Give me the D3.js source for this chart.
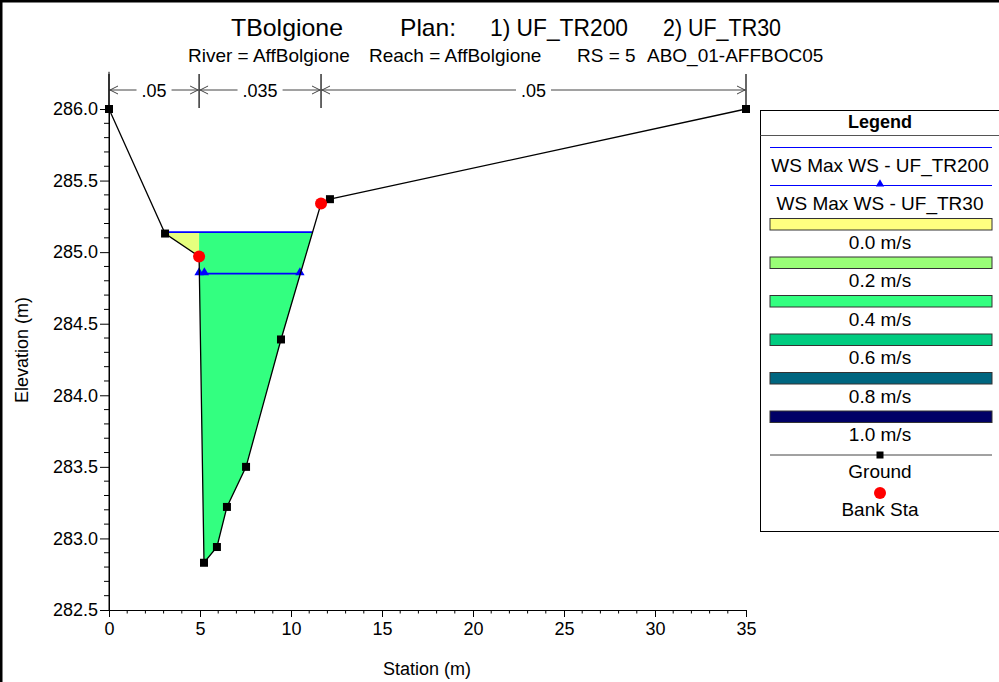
<!DOCTYPE html>
<html>
<head>
<meta charset="utf-8">
<script src="https://cdn.jsdelivr.net/npm/d3@7"></script>
<style>
  body { margin: 0; background: #fff; }
  svg { display: block; font-family: "Liberation Sans", Arial, Helvetica, sans-serif; }
</style>
</head>
<body>
<svg id="chart" width="999" height="682"></svg>
<script>
// ---- Cross-section data (station m, elevation m) ----
const groundSta  = [0.00, 3.08, 4.95, 5.22, 5.93, 6.48, 7.53, 9.45, 11.65, 12.14, 35.00];
const groundElev = [286.00, 285.13, 284.97, 282.83, 282.94, 283.22, 283.50, 284.39, 285.34, 285.37, 286.00];

// Bank stations (left, right)
const bankSta = [4.95, 11.65];

// Manning's n subsections
const manningBreaks = [0.00, 4.95, 11.65, 35.00];
const manningN = [".05", ".035", ".05"];

// Water surfaces
const wsTR200 = 285.14;
const wsTR30 = 284.85;
const wsTR30Markers = [4.95, 5.24, 10.49];

// Mean velocity per subsection for the UF_TR200 profile (m/s)
const subsectionVel = [0.05, 0.40, 0.05];

// Velocity colour legend
const velLevels = [0.0, 0.2, 0.4, 0.6, 0.8, 1.0];
const velColors = ["#ffff80", "#99ff77", "#33ff80", "#00cc80", "#006680", "#000066"];
const velLabels = ["0.0 m/s", "0.2 m/s", "0.4 m/s", "0.6 m/s", "0.8 m/s", "1.0 m/s"];

// Axes
const xTicks = [0, 5, 10, 15, 20, 25, 30, 35];
const yTicks = [282.5, 283.0, 283.5, 284.0, 284.5, 285.0, 285.5, 286.0];
const yAxisTop = 286.26;

// Titles
const titleParts = ["TBolgione", "Plan:", "1) UF_TR200", "2) UF_TR30"];
const subtitleParts = ["River = AffBolgione", "Reach = AffBolgione", "RS = 5", "ABO_01-AFFBOC05"];
const legendLabels = ["WS Max WS - UF_TR200", "WS Max WS - UF_TR30", "Ground", "Bank Sta"];

// ---- Layout ----
const svg = d3.select("#chart");
const x = d3.scaleLinear().domain([0, 35]).range([109, 746]);
const y = d3.scaleLinear().domain([282.5, 286.0]).range([610, 109]);
const velColor = d3.scaleLinear().domain(velLevels).range(velColors);

svg.append("rect").attr("width", 999).attr("height", 682).attr("fill", "#fff");
// figure frame (top and left edges)
svg.append("line").attr("x1", 0).attr("x2", 999).attr("y1", 1).attr("y2", 1).attr("stroke", "#000").attr("stroke-width", 3);
svg.append("line").attr("x1", 1).attr("x2", 1).attr("y1", 0).attr("y2", 682).attr("stroke", "#000").attr("stroke-width", 3);

// Titles
const titleX = [231, 400, 490, 663];
const titleW = [112, 56, 138, 118];
titleParts.forEach((t, i) => {
  svg.append("text").attr("x", titleX[i]).attr("y", 36).attr("font-size", 24)
    .attr("textLength", titleW[i]).attr("lengthAdjust", "spacingAndGlyphs")
    .attr("fill", "#000").text(t);
});
const subX = [188, 369, 577, 647];
subtitleParts.forEach((t, i) => {
  svg.append("text").attr("x", subX[i]).attr("y", 62).attr("font-size", 19).attr("fill", "#000").text(t);
});

// Ground interpolation helper
function groundAt(s) {
  for (let i = 0; i < groundSta.length - 1; i++) {
    const s0 = groundSta[i], s1 = groundSta[i + 1];
    if (s >= s0 && s <= s1) {
      const t = s1 === s0 ? 0 : (s - s0) / (s1 - s0);
      return groundElev[i] + t * (groundElev[i + 1] - groundElev[i]);
    }
  }
  return groundElev[groundElev.length - 1];
}

// Wetted polygon between stations a..b under a water surface
function wetPolygon(a, b, ws) {
  const pts = [a];
  for (let i = 0; i < groundSta.length - 1; i++) {
    const s0 = groundSta[i], s1 = groundSta[i + 1];
    const e0 = groundElev[i], e1 = groundElev[i + 1];
    if ((e0 - ws) * (e1 - ws) < 0) {
      const sc = s0 + (ws - e0) / (e1 - e0) * (s1 - s0);
      if (sc > a && sc < b) pts.push(sc);
    }
    if (s1 > a && s1 < b) pts.push(s1);
  }
  pts.push(b);
  pts.sort((p, q) => p - q);
  const bottom = pts.map(s => [s, Math.min(groundAt(s), ws)]);
  const top = [[pts[0], ws], [pts[pts.length - 1], ws]];
  return top.concat(bottom.reverse());
}

// Velocity-coloured flow area
const plot = svg.append("g");
for (let k = 0; k < manningBreaks.length - 1; k++) {
  const poly = wetPolygon(manningBreaks[k], manningBreaks[k + 1], wsTR200);
  plot.append("path")
    .attr("d", d3.line().x(d => x(d[0])).y(d => y(d[1]))(poly) + "Z")
    .attr("fill", velColor(subsectionVel[k]))
    .attr("stroke", "none");
}

// Water surface lines (wet extents)
function wetExtent(ws) {
  let left = null, right = null;
  for (let i = 0; i < groundSta.length - 1; i++) {
    const s0 = groundSta[i], s1 = groundSta[i + 1];
    const e0 = groundElev[i], e1 = groundElev[i + 1];
    if ((e0 - ws) * (e1 - ws) <= 0 && e0 !== e1) {
      const sc = s0 + (ws - e0) / (e1 - e0) * (s1 - s0);
      if (e0 > e1 && left === null) left = sc;
      if (e1 > e0) right = sc;
    }
  }
  return [left, right];
}
const ext200 = wetExtent(wsTR200);
plot.append("line")
  .attr("x1", x(ext200[0])).attr("x2", x(ext200[1]))
  .attr("y1", y(wsTR200)).attr("y2", y(wsTR200))
  .attr("stroke", "#0000ff").attr("stroke-width", 1.6);
const ext30 = wetExtent(wsTR30);
plot.append("line")
  .attr("x1", x(ext30[0])).attr("x2", x(ext30[1]))
  .attr("y1", y(wsTR30)).attr("y2", y(wsTR30))
  .attr("stroke", "#0000ff").attr("stroke-width", 1.6);
const tri = d3.symbol().type(d3.symbolTriangle).size(38);
plot.selectAll(".ws30m").data(wsTR30Markers).join("path")
  .attr("transform", d => `translate(${x(d)},${y(wsTR30) - 1})`)
  .attr("d", tri).attr("fill", "#0000ff");

// Ground line
plot.append("path")
  .datum(groundSta.map((s, i) => [s, groundElev[i]]))
  .attr("d", d3.line().x(d => x(d[0])).y(d => y(d[1])))
  .attr("fill", "none").attr("stroke", "#000").attr("stroke-width", 1.3);
plot.selectAll(".gpt").data(groundSta.map((s, i) => [s, groundElev[i]])).join("rect")
  .attr("x", d => x(d[0]) - 4).attr("y", d => y(d[1]) - 4)
  .attr("width", 8).attr("height", 8).attr("fill", "#000");

// Bank stations
plot.selectAll(".bank").data(bankSta).join("circle")
  .attr("cx", d => x(d)).attr("cy", d => y(groundAt(d)))
  .attr("r", 6).attr("fill", "#ff0000");

// Manning's n brackets
const nY = 90;
const nG = svg.append("g").attr("stroke", "#444").attr("fill", "none");
manningBreaks.forEach(s => {
  nG.append("line").attr("x1", x(s)).attr("x2", x(s)).attr("y1", 74).attr("y2", 108)
    .attr("stroke", "#000").attr("stroke-width", 1.2);
});
for (let k = 0; k < manningN.length; k++) {
  const xa = x(manningBreaks[k]), xb = x(manningBreaks[k + 1]);
  const xm = (xa + xb) / 2;
  const lbl = svg.append("text").attr("x", xm).attr("y", nY + 7)
    .attr("text-anchor", "middle").attr("font-size", 18).attr("fill", "#000").text(manningN[k]);
  const w = lbl.node().getComputedTextLength();
  nG.append("line").attr("x1", xa).attr("x2", xm - w / 2 - 5).attr("y1", nY).attr("y2", nY);
  nG.append("line").attr("x1", xm + w / 2 + 5).attr("x2", xb).attr("y1", nY).attr("y2", nY);
  nG.append("polyline").attr("points", `${xa + 9},${nY - 4} ${xa + 1},${nY} ${xa + 9},${nY + 4}`);
  nG.append("polyline").attr("points", `${xb - 9},${nY - 4} ${xb - 1},${nY} ${xb - 9},${nY + 4}`);
}

// Axes
const xAxis = d3.axisBottom(x).tickValues(xTicks).tickFormat(d3.format("d")).tickSize(7).tickSizeOuter(0).tickPadding(5);
const gx = svg.append("g").attr("transform", "translate(0,610)").call(xAxis);
const xMinor = d3.range(0, 36, 1).filter(v => v % 5 !== 0);
gx.selectAll(".minor").data(xMinor).join("line").attr("class", "minor")
  .attr("x1", d => x(d)).attr("x2", d => x(d)).attr("y1", 0).attr("y2", 3.5).attr("stroke", "#000");

const yAxis = d3.axisLeft(y).tickValues(yTicks).tickFormat(d3.format(".1f")).tickSize(9).tickSizeOuter(0).tickPadding(2);
const gy = svg.append("g").attr("transform", "translate(109,0)").call(yAxis);
const yMinor = d3.range(0, 36, 1).map(i => 282.5 + i * 0.1).filter((v, i) => i % 5 !== 0);
gy.selectAll(".minor").data(yMinor).join("line").attr("class", "minor")
  .attr("x1", -5).attr("x2", 0).attr("y1", d => y(d)).attr("y2", d => y(d)).attr("stroke", "#000");
gy.append("line").attr("x1", 0).attr("x2", 0).attr("y1", y(yAxisTop)).attr("y2", y(282.5)).attr("stroke", "#000");
[gx, gy].forEach(g => {
  g.selectAll("text").attr("font-size", 18).attr("font-family", "Liberation Sans, Arial, sans-serif").attr("fill", "#000");
  g.selectAll(".domain").attr("stroke", "#000");
  g.selectAll(".tick line").attr("stroke", "#000");
});

svg.append("text").attr("x", 427).attr("y", 675).attr("text-anchor", "middle")
  .attr("font-size", 18).text("Station (m)");
svg.append("text").attr("transform", "translate(28,350) rotate(-90)").attr("text-anchor", "middle")
  .attr("font-size", 18).text("Elevation (m)");

// Legend
const lg = svg.append("g");
const lx0 = 770, lx1 = 992, lxc = 880;
lg.append("rect").attr("x", 760.5).attr("y", 110.5).attr("width", 245).attr("height", 421)
  .attr("fill", "#fff").attr("stroke", "#000");
lg.append("line").attr("x1", 760.5).attr("x2", 999).attr("y1", 135.5).attr("y2", 135.5).attr("stroke", "#555");
lg.append("text").attr("x", lxc).attr("y", 128).attr("text-anchor", "middle")
  .attr("font-size", 18).attr("font-weight", "bold").text("Legend");

lg.append("line").attr("x1", lx0).attr("x2", lx1).attr("y1", 147.5).attr("y2", 147.5).attr("stroke", "#0000ff");
lg.append("text").attr("x", lxc).attr("y", 172).attr("text-anchor", "middle").attr("font-size", 19).text(legendLabels[0]);
lg.append("line").attr("x1", lx0).attr("x2", lx1).attr("y1", 185.5).attr("y2", 185.5).attr("stroke", "#0000ff");
lg.append("path").attr("transform", `translate(${lxc},${184})`).attr("d", d3.symbol().type(d3.symbolTriangle).size(30)).attr("fill", "#0000ff");
lg.append("text").attr("x", lxc).attr("y", 210).attr("text-anchor", "middle").attr("font-size", 19).text(legendLabels[1]);

velLevels.forEach((v, i) => {
  const yy = 218.5 + i * 38.5;
  lg.append("rect").attr("x", lx0).attr("y", yy).attr("width", lx1 - lx0).attr("height", 11.5)
    .attr("fill", velColors[i]).attr("stroke", "#333");
  lg.append("text").attr("x", lxc).attr("y", yy + 30).attr("text-anchor", "middle").attr("font-size", 19).text(velLabels[i]);
});

lg.append("line").attr("x1", lx0).attr("x2", lx1).attr("y1", 455).attr("y2", 455).attr("stroke", "#444");
lg.append("rect").attr("x", lxc - 3.5).attr("y", 451.5).attr("width", 7).attr("height", 7).attr("fill", "#000");
lg.append("text").attr("x", lxc).attr("y", 478).attr("text-anchor", "middle").attr("font-size", 19).text(legendLabels[2]);
lg.append("circle").attr("cx", lxc).attr("cy", 493).attr("r", 6).attr("fill", "#ff0000");
lg.append("text").attr("x", lxc).attr("y", 516).attr("text-anchor", "middle").attr("font-size", 19).text(legendLabels[3]);
</script>
</body>
</html>
